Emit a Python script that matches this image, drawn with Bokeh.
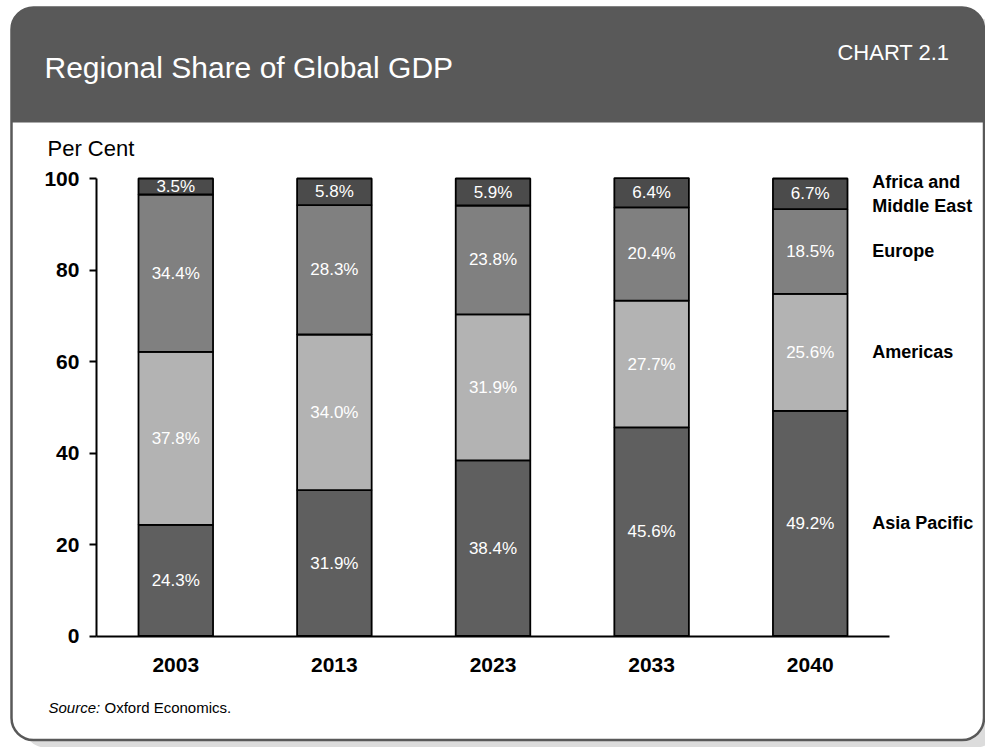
from bokeh.plotting import figure
from bokeh.models import (ColumnDataSource, FactorRange, Range1d, BoxAnnotation,
                          Label, LabelSet, FixedTicker)
from bokeh.core.properties import value
from bokeh.embed import file_html
from bokeh.resources import INLINE

# ---------------- data ----------------
years = ["2003", "2013", "2023", "2033", "2040"]
asia_pacific = [24.3, 31.9, 38.4, 45.6, 49.2]
americas = [37.8, 34.0, 31.9, 27.7, 25.6]
europe = [34.4, 28.3, 23.8, 20.4, 18.5]
africa_me = [3.5, 5.8, 5.9, 6.4, 6.7]
region_names = ["Asia Pacific", "Americas", "Europe", "Africa and\nMiddle East"]
y_ticks = [0, 20, 40, 60, 80, 100]
title_text = "Regional Share of Global GDP"
chart_no = "CHART 2.1"
y_title = "Per Cent"

# ---------------- style ----------------
FONT = "Liberation Sans"
colors = ["#5f5f5f", "#b3b3b3", "#808080", "#4b4b4b"]
HEADER = "#595959"
W, H = 985, 747

series = [asia_pacific, americas, europe, africa_me]
keys = ["asia", "americas", "europe", "africa"]
src = ColumnDataSource(dict(years=years, **{k: v for k, v in zip(keys, series)}))

# frame covers the whole canvas; axes are pinned with fixed_location
xr = FactorRange(*years, range_padding=0.605, range_padding_units="absolute")
yr = Range1d(-24.37, 138.91)
p = figure(x_range=xr, y_range=yr, width=W, height=H, output_backend="svg",
           toolbar_location=None,
           min_border_left=0, min_border_right=0, min_border_top=0, min_border_bottom=0)
p.outline_line_color = None
p.border_fill_color = "white"
p.background_fill_color = None
p.xgrid.visible = False
p.ygrid.visible = False

# ---------------- card ----------------
box_kw = dict(left_units="canvas", right_units="canvas", top_units="canvas",
              bottom_units="canvas", level="underlay")
L, R, T, B = 11, 983.5, 7, 739.5
p.add_layout(BoxAnnotation(left=L + 12, right=R + 14, top=T + 10, bottom=B + 7.5,
                           fill_color="#dcdcdc", fill_alpha=1, line_color=None,
                           border_radius=22, **box_kw))
p.add_layout(BoxAnnotation(left=L, right=R, top=T, bottom=B, fill_color="white",
                           fill_alpha=1, line_color=None, border_radius=22, **box_kw))
p.add_layout(BoxAnnotation(left=L, right=R, top=T, bottom=122, fill_color=HEADER,
                           fill_alpha=1, line_color=None, border_radius=(22, 22, 0, 0), **box_kw))
p.add_layout(BoxAnnotation(left=L, right=R, top=T, bottom=B, fill_color=None,
                           fill_alpha=0, line_color=HEADER, line_width=2.5, line_alpha=1,
                           border_radius=22, **box_kw))

# ---------------- bars ----------------
p.vbar_stack(keys, x="years", width=0.47, source=src, fill_color=colors,
             line_color="black", line_width=1.8)

# segment value labels
lx, ly, lt = [], [], []
for i, yr_ in enumerate(years):
    base = 0.0
    for s in series:
        lx.append(yr_)
        ly.append(base + s[i] / 2)
        lt.append(f"{s[i]:.1f}%")
        base += s[i]
p.text(x=lx, y=ly, text=lt, text_align="center", text_baseline="middle",
       text_color="white", text_font=value(FONT), text_font_size="17px")

# region labels next to the last bar
ry, base = [], 0.0
for s in series:
    ry.append(base + s[-1] / 2)
    base += s[-1]
rsrc = ColumnDataSource(dict(x=[years[-1]] * len(region_names), y=ry, text=region_names))
p.add_layout(LabelSet(x="x", y="y", text="text", source=rsrc, x_offset=62,
                      text_align="left", text_baseline="middle", text_font=value(FONT),
                      text_font_size="18px", text_font_style="bold", text_color="black",
                      text_line_height=1.2))

# ---------------- axes ----------------
ya = p.yaxis[0]
ya.fixed_location = 0
ya.ticker = FixedTicker(ticks=y_ticks)
ya.bounds = (0, 100)
ya.major_tick_out = 7
ya.major_tick_in = 0
ya.minor_tick_out = 0
ya.minor_tick_in = 0
ya.axis_line_width = 2
ya.axis_line_color = "black"
ya.major_tick_line_width = 2
ya.major_tick_line_color = "black"
ya.major_label_text_font = FONT
ya.major_label_text_font_size = "21px"
ya.major_label_text_font_style = "bold"
ya.major_label_text_color = "black"
ya.major_label_standoff = 10

xa = p.xaxis[0]
xa.fixed_location = 0
xa.bounds = (0, len(years))
xa.major_tick_out = 0
xa.major_tick_in = 0
xa.minor_tick_out = 0
xa.minor_tick_in = 0
xa.axis_line_width = 2
xa.axis_line_color = "black"
xa.major_label_text_font = FONT
xa.major_label_text_font_size = "21px"
xa.major_label_text_font_style = "bold"
xa.major_label_text_color = "black"
xa.major_label_standoff = 22

# ---------------- texts ----------------
lab_kw = dict(x_units="canvas", y_units="canvas", text_font=FONT)
p.add_layout(Label(x=44, y=67, text=title_text, text_color="white", text_font_size="30px",
                   text_baseline="middle", **lab_kw))
p.add_layout(Label(x=949, y=52, text=chart_no, text_color="white", text_font_size="22px",
                   text_baseline="middle", text_align="right", **lab_kw))
p.add_layout(Label(x=47, y=148, text=y_title, text_color="black", text_font_size="22px",
                   text_baseline="middle", **lab_kw))
p.add_layout(Label(x=48, y=707, text="Source:", text_color="black", text_font_size="15px",
                   text_font_style="italic", text_baseline="middle", **lab_kw))
p.add_layout(Label(x=104, y=707, text="Oxford Economics.", text_color="black",
                   text_font_size="15px", text_baseline="middle", **lab_kw))

open("out.html", "w").write(file_html(p, INLINE))
